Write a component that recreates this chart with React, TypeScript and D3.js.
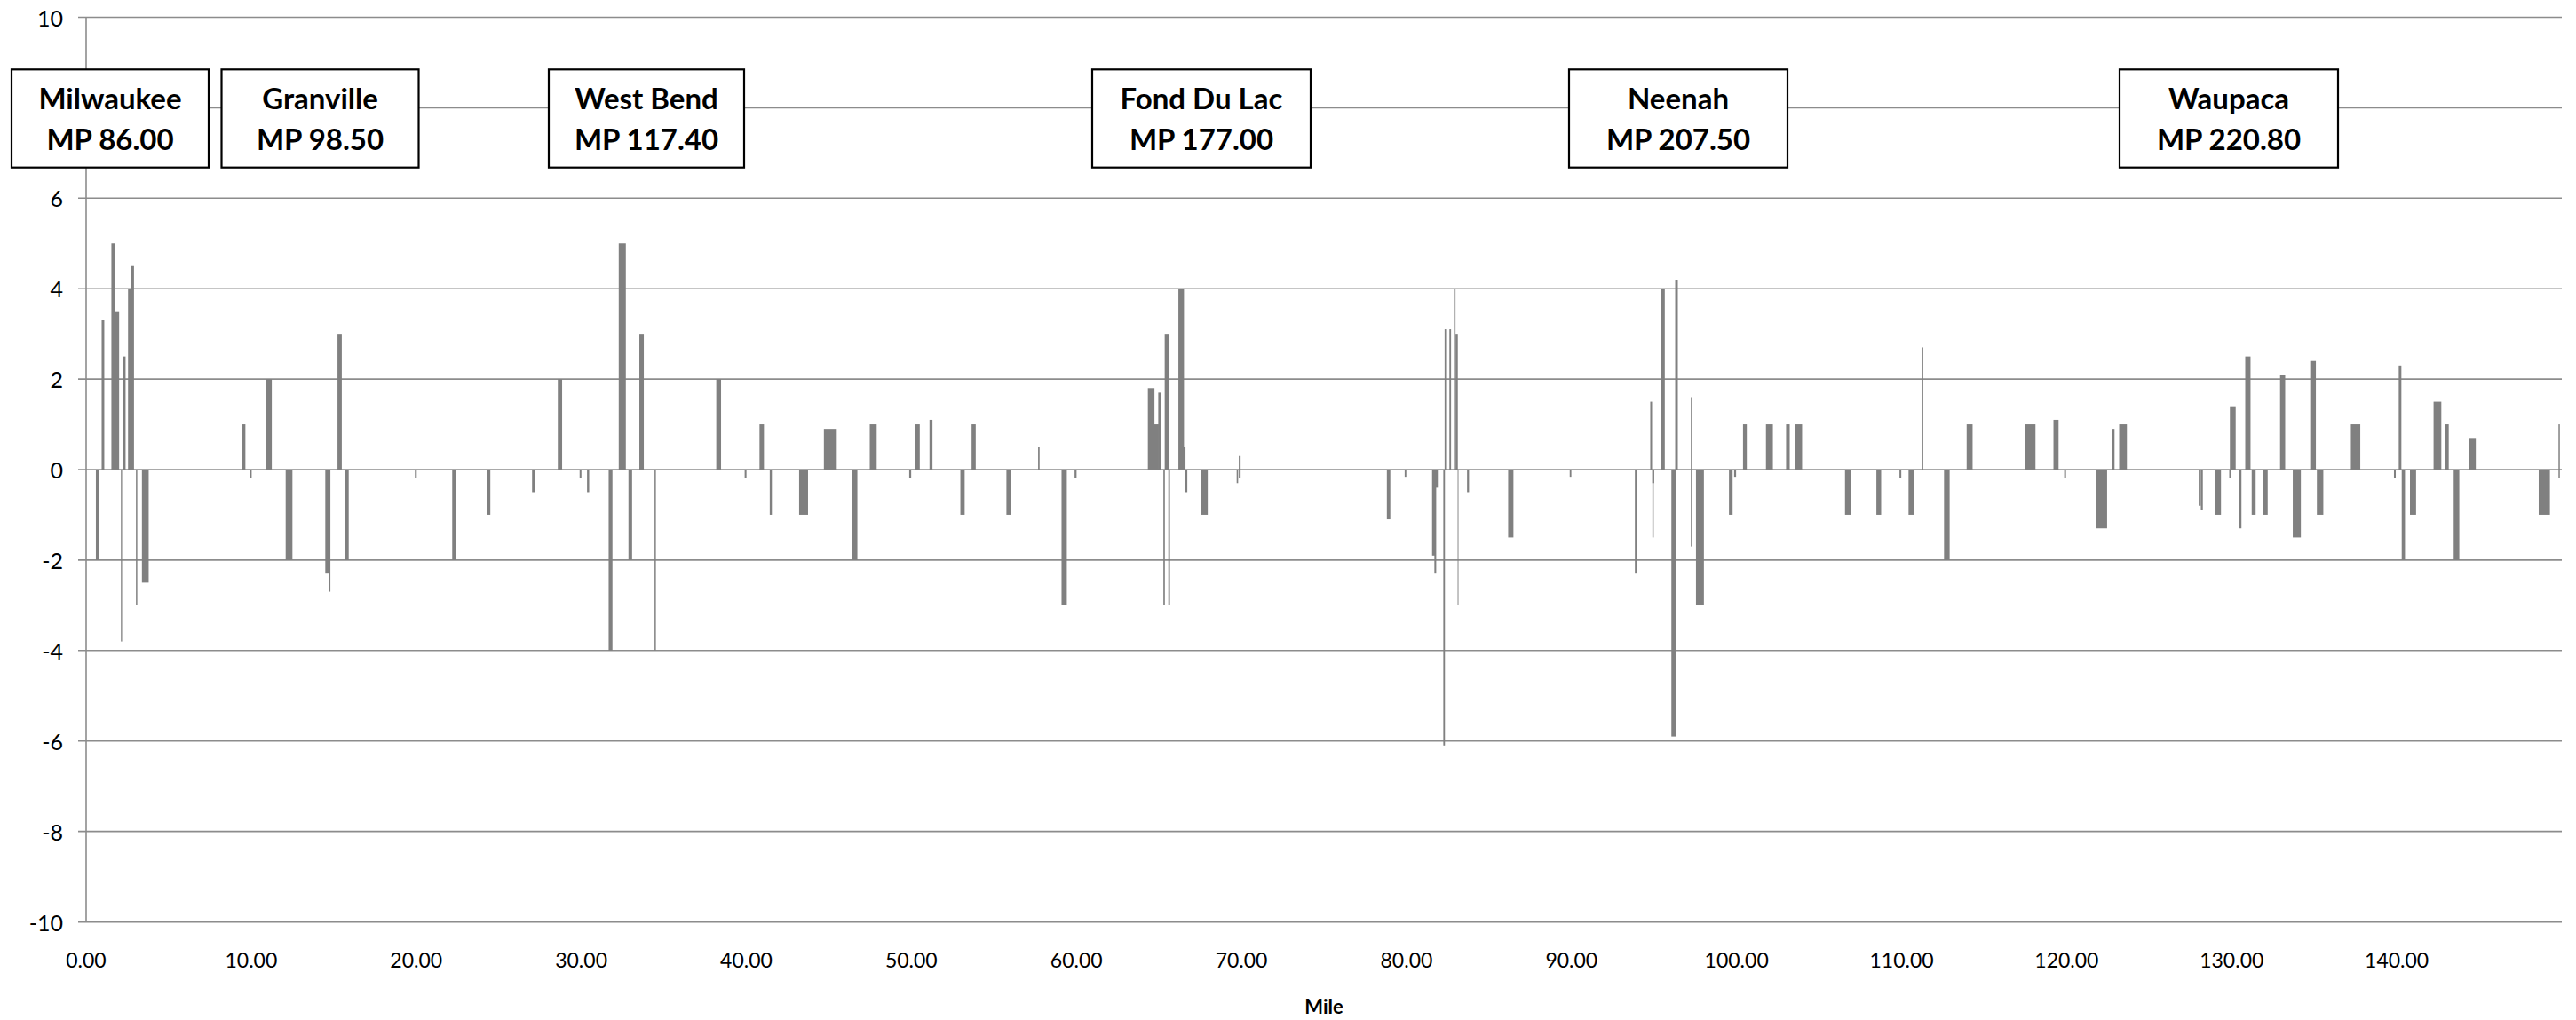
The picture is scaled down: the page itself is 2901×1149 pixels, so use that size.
import React from "react";
import * as d3 from "d3";

// ---- data (miles from Milwaukee, deviation value) ----
// each entry: [segment start mile, segment end mile, value]
const segments: [number, number, number][] = [
  [0.59, 0.76, -2.0], [0.94, 1.1, 3.3], [1.53, 1.75, 5.0], [1.72, 2.0, 3.5],
  [2.11, 2.18, -3.8], [2.22, 2.39, 2.5], [2.54, 2.75, 4.0], [2.7, 2.9, 4.5],
  [3.02, 3.1, -3.0], [3.38, 3.79, -2.5], [9.47, 9.65, 1.0], [9.94, 10.03, -0.18],
  [10.87, 11.25, 2.0], [12.09, 12.5, -2.0], [14.49, 14.73, -2.3], [14.69, 14.8, -2.7],
  [15.23, 15.49, 3.0], [15.71, 15.91, -2.0], [19.92, 20.03, -0.18], [22.18, 22.43, -2.0],
  [24.27, 24.49, -1.0], [27.02, 27.18, -0.5], [28.58, 28.84, 2.0], [29.9, 30.01, -0.18],
  [30.35, 30.48, -0.5], [31.66, 31.89, -4.0], [32.27, 32.7, 5.0], [32.86, 33.08, -2.0],
  [33.52, 33.79, 3.0], [34.44, 34.52, -4.0], [38.18, 38.47, 2.0], [39.9, 40.01, -0.18],
  [40.8, 41.07, 1.0], [41.42, 41.55, -1.0], [43.2, 43.74, -1.0], [44.7, 45.48, 0.9],
  [46.41, 46.73, -2.0], [47.48, 47.9, 1.0], [49.87, 49.99, -0.18], [50.23, 50.51, 1.0],
  [51.1, 51.28, 1.1], [52.97, 53.23, -1.0], [53.65, 53.9, 1.0], [55.76, 56.05, -1.0],
  [57.68, 57.77, 0.5], [59.1, 59.42, -3.0], [59.89, 60.01, -0.18], [64.33, 64.73, 1.8],
  [64.69, 64.99, 1.0], [64.96, 65.14, 1.7], [65.27, 65.36, -3.0], [65.35, 65.64, 3.0],
  [65.57, 65.67, -3.0], [66.18, 66.52, 4.0], [66.48, 66.61, 0.5], [66.59, 66.72, -0.5],
  [67.55, 67.96, -1.0], [69.71, 69.8, -0.3], [69.84, 69.95, 0.3], [69.84, 69.95, -0.18],
  [78.81, 79.02, -1.1], [79.89, 79.99, -0.16], [81.55, 81.75, -1.9], [81.68, 81.9, -0.4],
  [81.69, 81.8, -2.3], [82.23, 82.33, -6.1], [82.31, 82.4, 3.1], [82.6, 82.7, 3.1],
  [82.93, 82.97, 4.0], [82.97, 83.11, 3.0], [83.1, 83.15, -3.0], [83.67, 83.79, -0.5],
  [86.16, 86.48, -1.5], [89.89, 89.99, -0.16], [93.84, 93.97, -2.3], [94.77, 94.88, 1.5],
  [94.89, 95.01, -0.3], [94.9, 94.98, -1.5], [95.44, 95.65, 4.0], [96.05, 96.32, -5.9],
  [96.28, 96.44, 4.2], [97.23, 97.32, 1.6], [97.23, 97.32, -1.7], [97.54, 98.02, -3.0],
  [99.54, 99.76, -1.0], [99.85, 99.97, -0.16], [100.39, 100.62, 1.0], [101.78, 102.2, 1.0],
  [103.0, 103.22, 1.0], [103.52, 103.97, 1.0], [106.57, 106.91, -1.0], [108.47, 108.76, -1.0],
  [109.87, 109.98, -0.18], [110.42, 110.76, -1.0], [111.24, 111.31, 2.7], [112.57, 112.91, -2.0],
  [113.94, 114.3, 1.0], [117.48, 118.11, 1.0], [119.2, 119.51, 1.1], [119.85, 119.96, -0.18],
  [121.77, 122.45, -1.3], [122.74, 122.9, 0.9], [123.18, 123.65, 1.0], [128.0, 128.13, -0.8],
  [128.13, 128.25, -0.9], [129.01, 129.35, -1.0], [129.85, 129.97, -0.18], [129.89, 130.24, 1.4],
  [130.44, 130.59, -1.3], [130.82, 131.14, 2.5], [131.21, 131.45, -1.0], [131.88, 132.18, -1.0],
  [132.93, 133.24, 2.1], [133.7, 134.19, -1.5], [134.81, 135.1, 2.4], [135.16, 135.55, -1.0],
  [137.22, 137.79, 1.0], [139.83, 139.94, -0.18], [140.12, 140.28, 2.3], [140.3, 140.5, -2.0],
  [140.8, 141.17, -1.0], [142.23, 142.7, 1.5], [142.9, 143.15, 1.0], [143.45, 143.79, -2.0],
  [144.4, 144.79, 0.7], [148.6, 149.28, -1.0], [149.8, 149.88, 1.0], [149.8, 149.88, -0.18],
];

const stationNames = ["Milwaukee", "Granville", "West Bend", "Fond Du Lac", "Neenah", "Waupaca"];
const stationMileposts = ["MP 86.00", "MP 98.50", "MP 117.40", "MP 177.00", "MP 207.50", "MP 220.80"];

const xTicks = [0, 10, 20, 30, 40, 50, 60, 70, 80, 90, 100, 110, 120, 130, 140];
const yTicks = [-10, -8, -6, -4, -2, 0, 2, 4, 6, 8, 10];
// the "8" label sits behind the Milwaukee box in the original, so it is not shown
const yTickLabels = [-10, -8, -6, -4, -2, 0, 2, 4, 6, 10];
const xTitle = "Mile";

// ---- layout ----
const W = 2901;
const H = 1149;
const plot = { left: 97, right: 2885, top: 19.5, bottom: 1038.5 };
const boxLayout = [
  { cx: 124, w: 222 },
  { cx: 360.5, w: 222 },
  { cx: 728, w: 220 },
  { cx: 1353, w: 246 },
  { cx: 1890, w: 246 },
  { cx: 2510, w: 246 },
];
const boxTop = 78.3;
const boxBottom = 188.7;
const FONT = "Lato, 'Open Sans', 'Liberation Sans', sans-serif";

export default function App() {
  const x = d3.scaleLinear().domain([0, 150]).range([plot.left, plot.right]);
  const y = d3.scaleLinear().domain([-10, 10]).range([plot.bottom, plot.top]);
  const fmt = d3.format(".2f");

  return (
    <svg
      width={W}
      height={H}
      style={{ position: "absolute", left: 0, top: 0, background: "#fff" }}
      xmlns="http://www.w3.org/2000/svg"
    >
      <rect x={0} y={0} width={W} height={H} fill="#fff" />
      {/* gridlines + y ticks */}
      {yTicks.map((t) => (
        <line
          key={"g" + t}
          x1={plot.left - 9}
          x2={plot.right}
          y1={y(t)}
          y2={y(t)}
          stroke="#8c8c8c"
          strokeWidth={t === -10 ? 2.2 : 1.6}
        />
      ))}
      {yTickLabels.map((t) => (
        <text
          key={"yl" + t}
          x={71}
          y={y(t)}
          textAnchor="end"
          dominantBaseline="central"
          fontFamily={FONT}
          fontSize={25}
          fill="#000"
        >
          {t}
        </text>
      ))}
      {/* y axis line */}
      <line x1={plot.left} x2={plot.left} y1={plot.top} y2={plot.bottom} stroke="#8c8c8c" strokeWidth={1.6} />

      {/* bars */}
      {segments.map(([a, b, v], i) => {
        const x0 = x(a);
        const x1 = x(b);
        const y0 = y(Math.max(0, v));
        const y1 = y(Math.min(0, v));
        return <rect key={i} x={x0} width={x1 - x0} y={y0} height={y1 - y0} fill="#808080" />;
      })}

      {/* x tick labels */}
      {xTicks.map((t) => (
        <text
          key={"x" + t}
          x={x(t)}
          y={1090}
          textAnchor="middle"
          fontFamily={FONT}
          fontSize={23}
          fill="#000"
        >
          {fmt(t)}
        </text>
      ))}
      <text
        x={(plot.left + plot.right) / 2}
        y={1142}
        textAnchor="middle"
        fontFamily={FONT}
        fontWeight="bold"
        fontSize={22}
        fill="#000"
      >
        {xTitle}
      </text>

      {/* station boxes */}
      {stationNames.map((name, i) => {
        const b = boxLayout[i];
        return (
          <g key={name}>
            <rect
              x={b.cx - b.w / 2}
              y={boxTop}
              width={b.w}
              height={boxBottom - boxTop}
              fill="#fff"
              stroke="#000"
              strokeWidth={2.2}
            />
            <text x={b.cx} y={123} textAnchor="middle" fontFamily={FONT} fontWeight="bold" fontSize={33} fill="#000">
              {name}
            </text>
            <text x={b.cx} y={168.5} textAnchor="middle" fontFamily={FONT} fontWeight="bold" fontSize={33} fill="#000">
              {stationMileposts[i]}
            </text>
          </g>
        );
      })}
    </svg>
  );
}
